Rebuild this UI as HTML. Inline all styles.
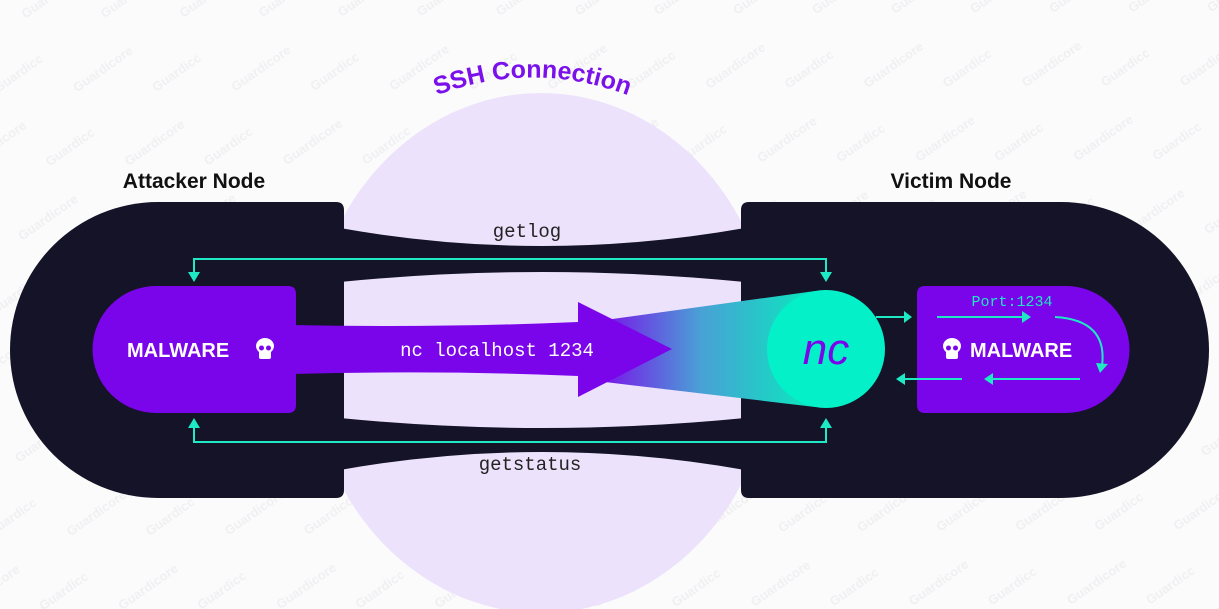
<!DOCTYPE html>
<html><head><meta charset="utf-8"><style>
html,body{margin:0;padding:0;background:#fbfbfc;}
svg{display:block}
</style></head><body>
<svg width="1219" height="609" viewBox="0 0 1219 609" xmlns="http://www.w3.org/2000/svg">
<defs>
<pattern id="wm" width="130" height="90" patternUnits="userSpaceOnUse" patternTransform="rotate(-35)">
<text x="10" y="30" font-family="Liberation Sans, sans-serif" font-weight="bold" font-size="13" fill="#f0f0f2">Guardicore</text>
<text x="75" y="75" font-family="Liberation Sans, sans-serif" font-weight="bold" font-size="13" fill="#f0f0f2">Guardicore</text>
</pattern>
<linearGradient id="cone" x1="600" y1="0" x2="800" y2="0" gradientUnits="userSpaceOnUse">
<stop offset="0" stop-color="#7a10ea"/><stop offset="0.5" stop-color="#4aa0d6"/><stop offset="1" stop-color="#10e0c0"/>
</linearGradient>
<path id="arc" d="M425,100 Q532,55 640,100"/>
</defs>
<rect width="1219" height="609" fill="#fbfbfc"/>
<rect width="1219" height="609" fill="url(#wm)"/>
<ellipse cx="541" cy="353" rx="232" ry="260" fill="#ece2fb"/>
<text font-family="Liberation Sans, sans-serif" font-weight="bold" font-size="25" fill="#7a10ea"><textPath href="#arc" startOffset="50%" text-anchor="middle">SSH Connection</textPath></text>
<text x="194" y="188" text-anchor="middle" font-family="Liberation Sans, sans-serif" font-weight="bold" font-size="21" fill="#111">Attacker Node</text>
<text x="951" y="188" text-anchor="middle" font-family="Liberation Sans, sans-serif" font-weight="bold" font-size="21" fill="#111">Victim Node</text>
<path d="M158,202 L336,202 Q344,202 344,210 L344,490 Q344,498 336,498 L158,498 A148,148 0 0 1 158,202 Z" fill="#141327"/>
<path d="M1061,202 L749,202 Q741,202 741,210 L741,490 Q741,498 749,498 L1061,498 A148,148 0 0 0 1061,202 Z" fill="#141327"/>
<path d="M340,228 Q542,264 745,228 L745,282 Q542,262 340,282 Z" fill="#141327"/>
<path d="M340,418 Q542,438 745,418 L745,470 Q542,434 340,470 Z" fill="#141327"/>
<g stroke="#1de9c4" stroke-width="2" fill="none">
<path d="M194,276 L194,259 L826,259 L826,276"/>
<path d="M194,424 L194,442 L826,442 L826,424"/>
<path d="M876,317 L906,317"/>
</g>
<g fill="#1de9c4">
<path d="M188,272 L200,272 L194,282 Z"/>
<path d="M820,272 L832,272 L826,282 Z"/>
<path d="M188,428 L200,428 L194,418 Z"/>
<path d="M820,428 L832,428 L826,418 Z"/>
<path d="M904,311 L912,317 L904,323 Z"/>
</g>
<text x="527" y="237" text-anchor="middle" font-family="Liberation Mono, monospace" font-size="19" fill="#222">getlog</text>
<text x="530" y="470" text-anchor="middle" font-family="Liberation Mono, monospace" font-size="19" fill="#222">getstatus</text>
<path d="M605,320 L815,291 L815,407 L605,382 Z" fill="url(#cone)"/>
<path d="M156,286 L288,286 Q296,286 296,294 L296,405 Q296,413 288,413 L156,413 A63.5,63.5 0 0 1 156,286 Z" fill="#7a05ea"/>
<path d="M292,325 Q440,328 578,322 L578,302 L672,349 L578,397 L578,376 Q440,370 292,374 Z" fill="#7a05ea"/>
<circle cx="826" cy="349" r="59" fill="#03f0c8"/>
<text x="826" y="364" text-anchor="middle" font-family="Liberation Sans, sans-serif" font-style="italic" font-size="44" fill="#7a05ea">nc</text>
<text x="497" y="356" text-anchor="middle" font-family="Liberation Mono, monospace" font-size="19" fill="#fff">nc localhost 1234</text>
<text x="127" y="357" font-family="Liberation Sans, sans-serif" font-weight="bold" font-size="20" fill="#fff">MALWARE</text>
<g fill="#fff"><ellipse cx="265" cy="346" rx="9" ry="8"/><rect x="259" y="350" width="12" height="9" rx="2"/></g>
<g fill="#7a05ea"><circle cx="261.5" cy="348" r="2.5"/><circle cx="268.5" cy="348" r="2.5"/></g>
<path d="M925,286 L1066,286 A63.5,63.5 0 0 1 1066,413 L925,413 Q917,413 917,405 L917,294 Q917,286 925,286 Z" fill="#7a05ea"/>
<path d="M937,317 L1024,317 M1055,317 Q1108,320 1102,366 M1080,379 L990,379 M962,379 L902,379" stroke="#1de9c4" stroke-width="2" fill="none"/>
<path d="M1022,311 L1031,317 L1022,323 Z M1096,363 L1108,364 L1100,373 Z M993,373 L984,379 L993,385 Z M905,373 L896,379 L905,385 Z" fill="#1de9c4"/>
<text x="1012" y="306" text-anchor="middle" font-family="Liberation Mono, monospace" font-size="15" fill="#1de9c4">Port:1234</text>
<text x="970" y="357" font-family="Liberation Sans, sans-serif" font-weight="bold" font-size="20" fill="#fff">MALWARE</text>
<g fill="#fff"><ellipse cx="952" cy="346" rx="9" ry="8"/><rect x="946" y="350" width="12" height="9" rx="2"/></g>
<g fill="#7a05ea"><circle cx="948.5" cy="348" r="2.5"/><circle cx="955.5" cy="348" r="2.5"/></g>
</svg>
</body></html>
